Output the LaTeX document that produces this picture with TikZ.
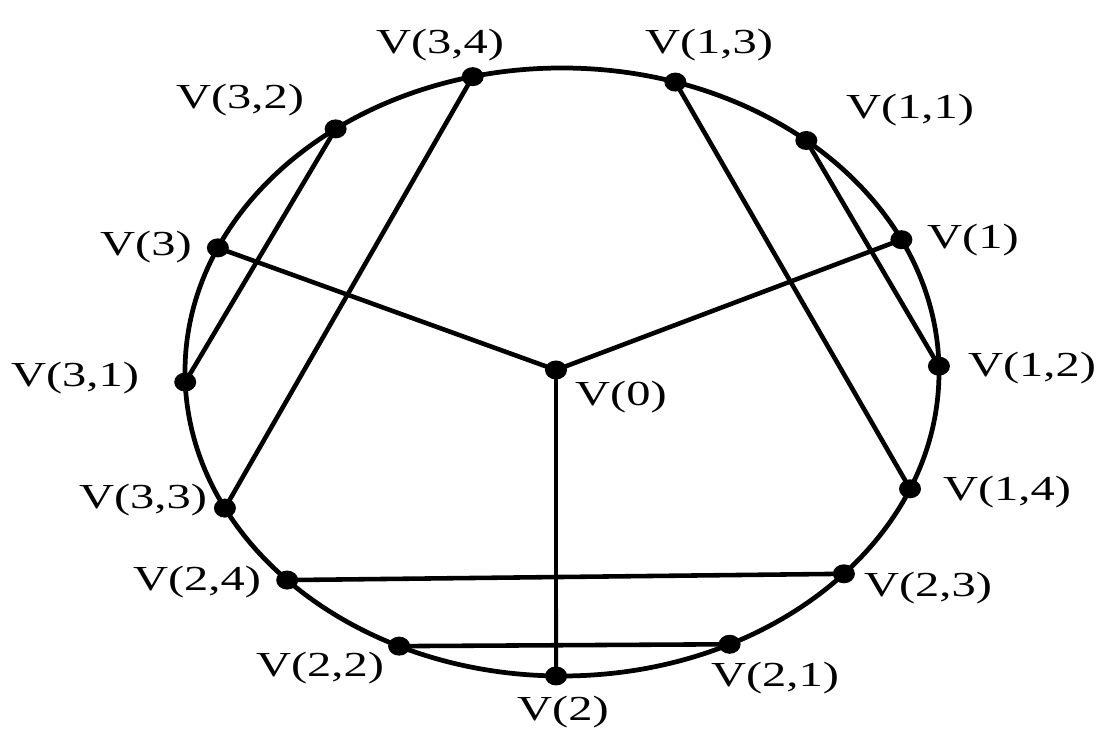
\documentclass[tikz,border=0pt]{standalone}
\usepackage{fontspec}
\setmainfont{Liberation Serif}
\usetikzlibrary{calc}
\begin{document}
\begin{tikzpicture}[x=0.02cm,y=0.02cm,
  ring/.style={line width=2.7pt},
  chord/.style={line width=2.6pt},
  spoke/.style={line width=2.2pt},
  lbl/.style={font=\fontsize{20}{23}\selectfont,xscale=1.38,transform shape,inner sep=0pt}]
\useasboundingbox (0,0) rectangle (1103,740);
\coordinate (c) at (562,368);
\draw[ring] (c) ellipse (377 and 304);
% vertices on the ring
\foreach \n/\a in {v34/103.7,v13/72.5,v32/126.9,v11/49.6,v3/155.9,v1/25.8,v31/181.9,v12/1.1,
                   v33/206.6,v14/337.4,v24/223.2,v23/318.4,v22/244.4,v21/296.4,v2/269.1}
  \coordinate (\n) at ($(c)+(\a:377 and 304)$);
\coordinate (v0) at (556,370);
% edges
\draw[chord] (v34) -- (v33);
\draw[chord] (v32) -- (v31);
\draw[chord] (v13) -- (v14);
\draw[chord] (v11) -- (v12);
\draw[chord] (v24) -- (v23);
\draw[chord] (v22) -- (v21);
\draw[chord] (v3) -- (v0) -- (v1);
\draw[spoke] (v0) -- (v2);
\foreach \n in {v34,v13,v32,v11,v3,v1,v31,v12,v33,v14,v24,v23,v22,v21,v2,v0}
  \fill (\n) ellipse (11 and 9.5);
% labels
\node[lbl] (l34) at (440,695) {V(3,4)};
\node[lbl] (l13) at (709,695) {V(1,3)};
\node[lbl] (l32) at (240,640) {V(3,2)};
\node[lbl] (l11) at (910,630) {V(1,1)};
\node[lbl] (l3) at (146,493) {V(3)};
\node[lbl] (l1) at (973,500) {V(1)};
\node[lbl] (l31) at (75,362) {V(3,1)};
\node[lbl] (l0) at (621,343) {V(0)};
\node[lbl] (l12) at (1032,372) {V(1,2)};
\node[lbl] (l33) at (143,240) {V(3,3)};
\node[lbl] (l14) at (1007,248) {V(1,4)};
\node[lbl] (l24) at (197,158) {V(2,4)};
\node[lbl] (l23) at (928,152) {V(2,3)};
\node[lbl] (l22) at (320,72) {V(2,2)};
\node[lbl] (l21) at (775,62) {V(2,1)};
\node[lbl] (l2) at (563,28) {V(2)};
\end{tikzpicture}
\end{document}
